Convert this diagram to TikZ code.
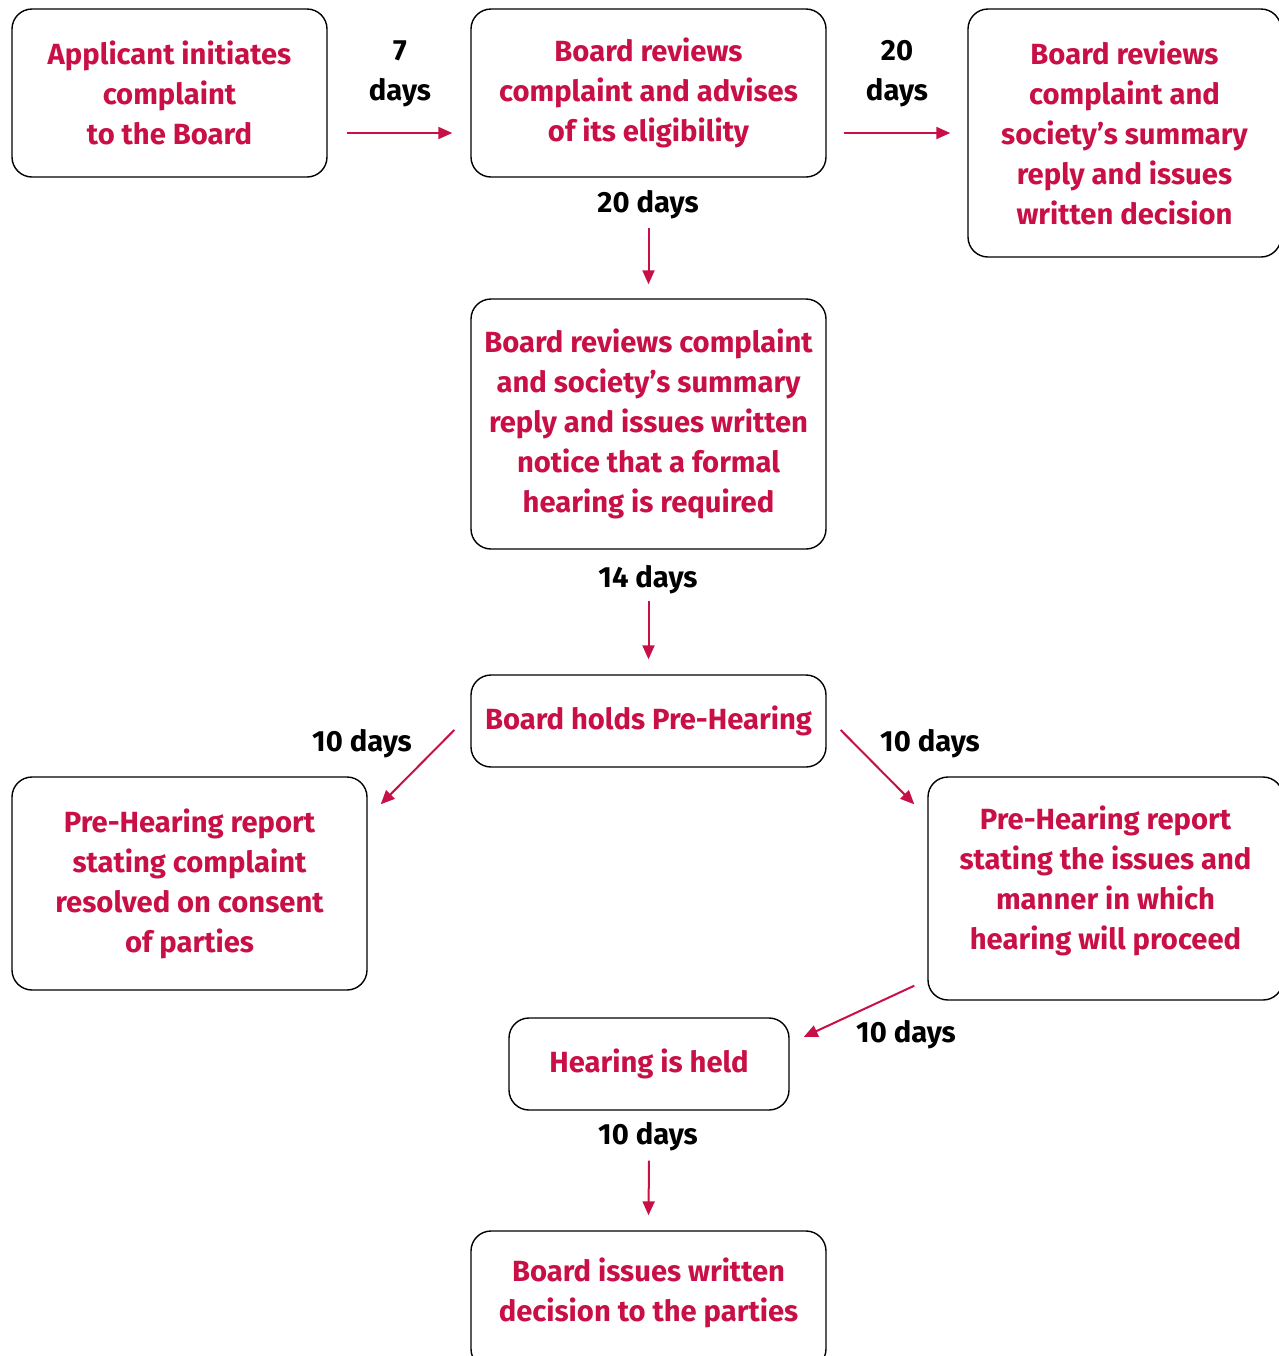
\documentclass[tikz,border=0pt]{standalone}
\usepackage{fontspec}
\setmainfont{Fira Sans}
\usetikzlibrary{arrows.meta}
\definecolor{crimson}{RGB}{200,16,70}

\tikzset{
    stepbox/.style = {draw, rounded corners = 10pt, line width = 0.7pt, align = center,
        text = crimson, font = \bfseries\fontsize{14.6}{20}\selectfont, inner sep = 0pt},
    days/.style = {align = center, font = \bfseries\fontsize{14.6}{20}\selectfont},
    arr/.style = {draw = crimson, line width = 1pt, -{Triangle[length = 7pt, width = 6pt]}}
}

\begin{document}
\begin{tikzpicture}[x = 0.5pt, y = -0.5pt]
    \useasboundingbox (0,0) rectangle (1279,1356);

    \node [stepbox, minimum width = 157.5pt, minimum height = 84pt] (apply) at (169.5,93) {Applicant initiates\\complaint\\to the Board};
    \node [stepbox, minimum width = 177.5pt, minimum height = 84pt] (advise) at (648.5,93) {Board reviews\\complaint and advises\\of its eligibility};
    \node [stepbox, minimum width = 156.5pt, minimum height = 124pt] (decide) at (1124.5,133) {Board reviews\\complaint and\\society's summary\\reply and issues\\written decision};
    \node [stepbox, minimum width = 177.5pt, minimum height = 125pt] (notice) at (648.5,424) {Board reviews complaint\\and society's summary\\reply and issues written\\notice that a formal\\hearing is required};
    \node [stepbox, minimum width = 177.5pt, minimum height = 46pt] (pre) at (648.5,721) {Board holds Pre-Hearing};
    \node [stepbox, minimum width = 177.5pt, minimum height = 106.5pt] (consent) at (189.5,883.5) {Pre-Hearing report\\stating complaint\\resolved on consent\\of parties};
    \node [stepbox, minimum width = 177.5pt, minimum height = 111.5pt, text depth = 11pt] (manner) at (1105.5,888.5) {Pre-Hearing report\\stating the issues and\\manner in which\\hearing will proceed};
    \node [stepbox, minimum width = 140pt, minimum height = 46pt] (held) at (649,1064) {Hearing is held};
    \node [stepbox, minimum width = 177.5pt, minimum height = 69pt, text depth = 10pt] (issue) at (648.5,1300) {Board issues written\\decision to the parties};

    \node [days] (d1) at (400,74) {7\\days};
    \node [days] (d2) at (897,74) {20\\days};
    \node [days] (d3) at (648,205) {20 days};
    \node [days] (d4) at (648,580) {14 days};
    \node [days] (d5) at (362,744) {10 days};
    \node [days] (d6) at (930,744) {10 days};
    \node [days] (d7) at (906,1035) {10 days};
    \node [days] (d8) at (648,1137) {10 days};

    \draw [arr] ([shift = {(19,40)}]apply.east) -- ([shift = {(-18,40)}]advise.west);
    \draw [arr] ([shift = {(17,40)}]advise.east) -- ([shift = {(-17,0)}]decide.west);
    \draw [arr] ([shift = {(0,50)}]advise.south) -- ([shift = {(0,-14)}]notice.north);
    \draw [arr] ([shift = {(0,51)}]notice.south) -- ([shift = {(0,-15)}]pre.north);
    \draw [arr] ([shift = {(-16,9)}]pre.west) -- ([shift = {(13,28)}]consent.north east);
    \draw [arr] ([shift = {(14,9)}]pre.east) -- ([shift = {(-13,28)}]manner.north west);
    \draw [arr] ([shift = {(-13,-15)}]manner.south west) -- ([shift = {(14,-27)}]held.east);
    \draw [arr] ([shift = {(0,50)}]held.south) -- ([shift = {(0,-15)}]issue.north);
\end{tikzpicture}
\end{document}
